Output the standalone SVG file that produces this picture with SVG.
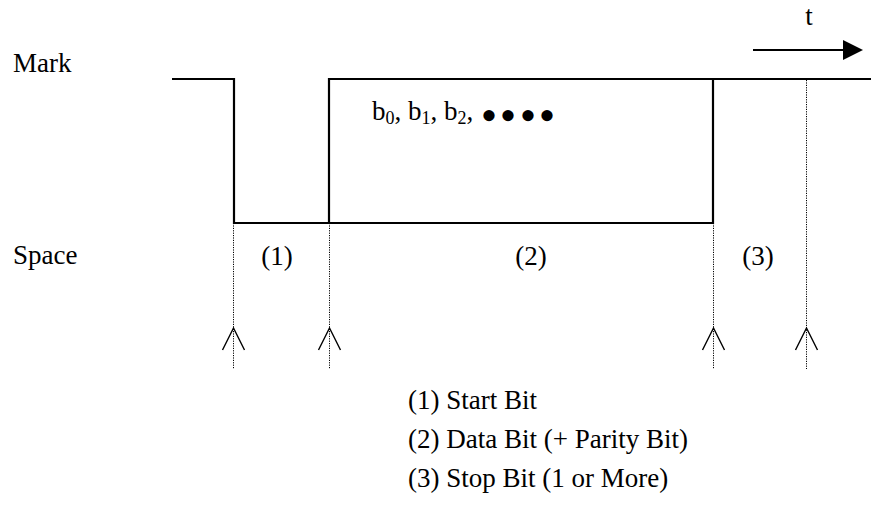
<svg xmlns="http://www.w3.org/2000/svg" width="871" height="513" viewBox="0 0 871 513">
<style>
text{font-family:"Liberation Serif","Times New Roman",serif;font-size:27px;fill:#000}
.sig{fill:none;stroke:#000;stroke-width:2.2}
.dot{fill:none;stroke:#000;stroke-width:1;stroke-dasharray:1.2 1.2}
.chev{fill:none;stroke:#000;stroke-width:1.4}
.sub{font-size:18px}
.bul{font-size:47px}
</style>
<rect width="871" height="513" fill="#fff"/>
<g id="labels">
<text id="mark" x="13" y="72">Mark</text>
<text id="space" x="13" y="264">Space</text>
<text id="t" x="809" y="25" text-anchor="middle">t</text>
<text id="p1" x="277" y="265" text-anchor="middle">(1)</text>
<text id="p2" x="531" y="265" text-anchor="middle">(2)</text>
<text id="p3" x="758" y="265" text-anchor="middle">(3)</text>
<text id="bits" x="372" y="120">b<tspan class="sub" dy="4">0</tspan><tspan dy="-4">, b</tspan><tspan class="sub" dy="4">1</tspan><tspan dy="-4">, b</tspan><tspan class="sub" dy="4">2</tspan><tspan dy="-4">,</tspan></text>
<text id="dots" class="bul" x="489 508 528 547" y="131" text-anchor="middle">••••</text>
</g>
<g id="signal">
<path class="sig" d="M172 79 H234 V223 H329 V79 H871"/>
<path class="sig" d="M713 79 V223 H329"/>
</g>
<g id="connectors">
<line class="dot" x1="233.5" y1="223" x2="233.5" y2="369"/>
<line class="dot" x1="329.5" y1="223" x2="329.5" y2="369"/>
<line class="dot" x1="713.5" y1="223" x2="713.5" y2="369"/>
<line class="dot" x1="806.5" y1="80" x2="806.5" y2="369"/>
<path class="chev" d="M222.5 350 L233.5 328 L244.5 350"/>
<path class="chev" d="M318.5 350 L329.5 328 L340.5 350"/>
<path class="chev" d="M702.5 350 L713.5 328 L724.5 350"/>
<path class="chev" d="M795.5 350 L806.5 328 L817.5 350"/>
<line x1="753" y1="50" x2="845" y2="50" stroke="#000" stroke-width="2"/>
<polygon points="843,40 863,50 843,60" fill="#000"/>
</g>
<g id="legend">
<text id="l1" x="408" y="409">(1) Start Bit</text>
<text id="l2" x="408" y="448">(2) Data Bit (+ Parity Bit)</text>
<text id="l3" x="408" y="487">(3) Stop Bit (1 or More)</text>
</g>
</svg>
